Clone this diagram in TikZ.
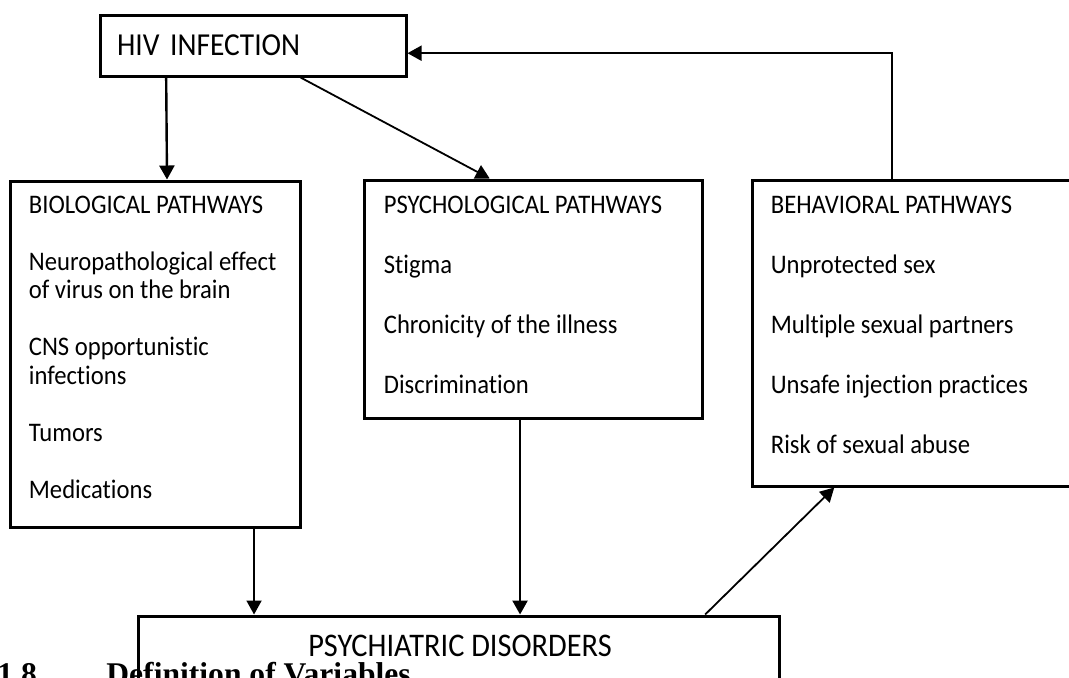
\documentclass[tikz,border=0pt]{standalone}
\usepackage{fontspec}
\setmainfont{Liberation Serif}
\newfontfamily\boxfont[FakeStretch=0.92, Ligatures=NoCommon]{Carlito}
\usetikzlibrary{arrows.meta,calc}

\tikzstyle{box} = [draw, rectangle, line width=1.5pt, inner sep=0pt]
\tikzstyle{txt} = [anchor=north west, inner sep=0pt, align=left, font=\boxfont\fontsize{13.4}{14.25}\selectfont]
\tikzstyle{arr} = [line width=1.2pt, -{Triangle[length=7pt,width=7.5pt]}]
\tikzstyle{thin} = [line width=0.9pt]

\begin{document}
\begin{tikzpicture}[x=0.5pt, y=-0.5pt]
    \useasboundingbox (0,0) rectangle (1069,677);
    % heading of the next section, cut by the page
    \node[anchor=base west, inner sep=0pt, font=\bfseries\fontsize{15.8}{18}\selectfont] (num) at (-3,684) {1.8};
    \node[anchor=base west, inner sep=0pt, font=\bfseries\fontsize{15.8}{18}\selectfont] (head) at (106,684) {Definition of Variables};

    \node[box, text width=136pt, inner xsep=8.5pt, minimum height=30.5pt, align=left,
          font=\boxfont\fontsize{16}{18}\selectfont] (hiv) at (253,45.5) {HIV INFECTION};
    \node[box, minimum width=145pt, minimum height=173pt] (bio) at (155,354) {};
    \node[box, minimum width=169pt, minimum height=119pt] (psy) at (533,299) {};
    \node[box, minimum width=164pt, minimum height=153pt] (beh) at (916,333) {};
    \node[box, minimum width=320.5pt, minimum height=52pt] (dis) at (458.5,668) {};

    \node[txt] (biotxt) at ([xshift=10pt, yshift=-8pt]bio.north west) {BIOLOGICAL PATHWAYS\\[14.25pt]
        Neuropathological effect\\ of virus on the brain\\[14.25pt]
        CNS opportunistic\\ infections\\[14.25pt]
        Tumors\\[14.25pt]
        Medications};
    \node[txt] (psytxt) at ([xshift=10.5pt, yshift=-8.5pt]psy.north west) {PSYCHOLOGICAL PATHWAYS\\[15.75pt]
        Stigma\\[15.75pt]
        Chronicity of the illness\\[15.75pt]
        Discrimination};
    \node[txt] (behtxt) at ([xshift=10pt, yshift=-8.5pt]beh.north west) {BEHAVIORAL PATHWAYS\\[15.75pt]
        Unprotected sex\\[15.75pt]
        Multiple sexual partners\\[15.75pt]
        Unsafe injection practices\\[15.75pt]
        Risk of sexual abuse};
    \node[inner sep=0pt, font=\boxfont\fontsize{16.5}{18}\selectfont] (distxt) at (460,646) {PSYCHIATRIC DISORDERS};

    \draw[arr] ($(hiv.south west)!0.219!(hiv.south east)$) -- ($(bio.north west)!0.541!(bio.north east)$);
    \draw[arr, thin] ($(hiv.south west)!0.654!(hiv.south east)$) -- ($(psy.north west)!0.373!(psy.north east)$);
    \draw[arr, thin] ($(beh.north west)!0.427!(beh.north east)$) |- ($(hiv.north east)!0.62!(hiv.south east)$);
    \draw[arr, thin] ($(bio.south west)!0.838!(bio.south east)$) coordinate (b1) -- (b1 |- dis.north);
    \draw[arr] ($(psy.south west)!0.462!(psy.south east)$) coordinate (p1) -- (p1 |- dis.north);
    \draw[arr, thin] ($(dis.north west)!0.883!(dis.north east)$) -- ($(beh.south west)!0.253!(beh.south east)$);
\end{tikzpicture}
\end{document}
